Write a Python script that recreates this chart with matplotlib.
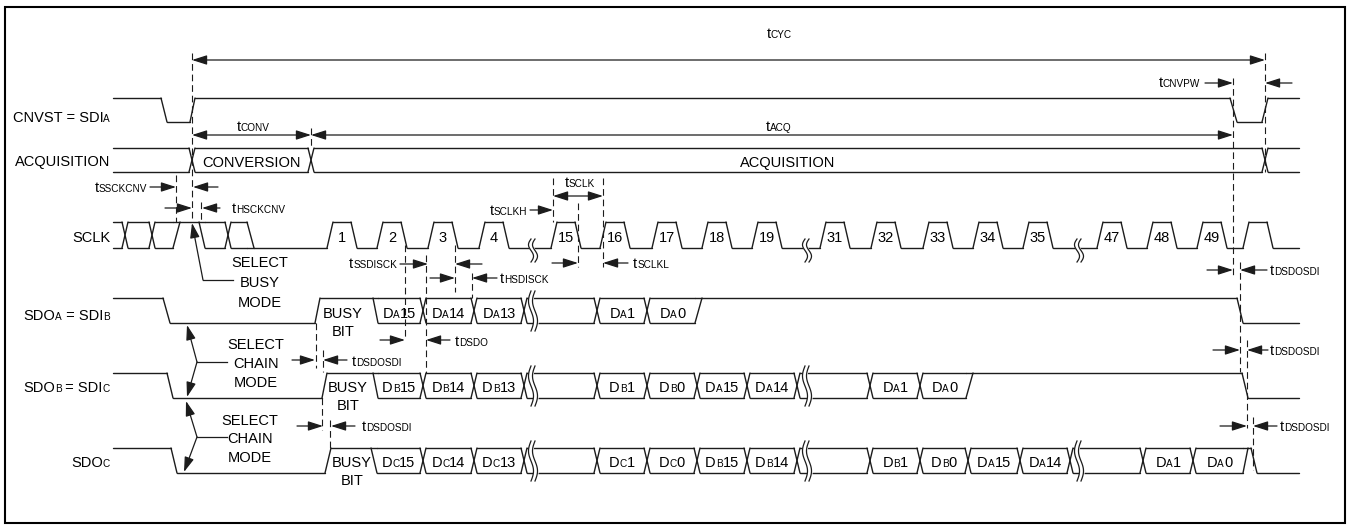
import re
import numpy as np
import matplotlib.pyplot as plt
from matplotlib.collections import LineCollection
from matplotlib.patches import Rectangle

plt.rcParams['font.family'] = ['Liberation Sans', 'DejaVu Sans']

INK = '#1c1c1c'

# ---- signal data: x = time position, states H / L / B(us) ----
row_labels = ['CNVST = SDI{A}', 'ACQUISITION', 'SCLK',
              'SDO{A} = SDI{B}', 'SDO{B} = SDI{C}', 'SDO{C}']

cnvst_trans = [(161, 6, 'L'), (190, 5, 'H'), (1230, 7, 'L'), (1262, 6, 'H')]
acq_trans = [(189, 6, 'B'), (308, 6, 'B'), (1262, 6, 'B')]
acq_text = ['', 'CONVERSION', 'ACQUISITION', '']

sclk_pre = [(122, 6, 'B'), (149, 6, 'B'), (173, 7, 'H'), (199, 6, 'B'), (225, 6, 'B'), (247, 7, 'L')]
sclk_rise = [327, 377, 428, 479, 551, 600, 652, 702, 752, 820, 871, 923, 973, 1023, 1097, 1147, 1197, 1243]
sclk_num = ['1', '2', '3', '4', '15', '16', '17', '18', '19', '31', '32', '33', '34', '35', '47', '48', '49', '']
sclk_breaks = [531, 805, 1077]

sdoa_cross = [420, 471, 521, 594, 644]
sdoa_bits = ['D{A}15', 'D{A}14', 'D{A}13', '', 'D{A}1', 'D{A}0']
sdoa_breaks = [531]

sdob_cross = [420, 471, 521, 594, 644, 694, 744, 794, 867, 917]
sdob_bits = ['D{B}15', 'D{B}14', 'D{B}13', '', 'D{B}1', 'D{B}0',
             'D{A}15', 'D{A}14', '', 'D{A}1', 'D{A}0']
sdob_breaks = [531, 805]

sdoc_cross = [420, 471, 521, 594, 644, 694, 744, 794, 867, 917, 965, 1017, 1067, 1140, 1190]
sdoc_bits = ['D{C}15', 'D{C}14', 'D{C}13', '', 'D{C}1', 'D{C}0',
             'D{B}15', 'D{B}14', '', 'D{B}1', 'D{B}0',
             'D{A}15', 'D{A}14', '', 'D{A}1', 'D{A}0']
sdoc_breaks = [531, 805, 1077]

sdoa_trans = [(163, 7, 'L'), (315, 5, 'H'), (373, 5, 'B')] + [(c, 6, 'B') for c in sdoa_cross] \
    + [(695, 7, 'H'), (1237, 6, 'L')]
sdob_trans = [(167, 6, 'L'), (322, 5, 'H'), (373, 5, 'B')] + [(c, 6, 'B') for c in sdob_cross] \
    + [(966, 7, 'H'), (1242, 6, 'L')]
sdoc_trans = [(171, 6, 'L'), (325, 6, 'H'), (371, 6, 'B')] + [(c, 6, 'B') for c in sdoc_cross] \
    + [(1243, 5, 'H'), (1251, 6, 'L')]

fig = plt.figure(figsize=(13.5, 5.25), dpi=100)
ax = fig.add_axes([0, 0, 1, 1])
ax.set_xlim(0, 1350)
ax.set_ylim(525, 0)
ax.axis('off')
renderer = fig.canvas.get_renderer()

FS, SUB = 10.5, 7.2


def rich(x, y, s, ha='left', size=FS, small=SUB):
    # text where {..} parts are small letters sitting on the baseline
    arts = []
    for p in re.split(r'(\{[^}]*\})', s):
        if not p:
            continue
        if p.startswith('{'):
            arts.append(ax.text(0, y, p[1:-1], fontsize=small, va='baseline', color='black'))
        else:
            arts.append(ax.text(0, y, p, fontsize=size, va='baseline', color='black'))
    ws = [a.get_window_extent(renderer).width for a in arts]
    tot = sum(ws)
    cur = x - tot if ha == 'right' else (x - tot / 2 if ha == 'center' else x)
    for a, w in zip(arts, ws):
        a.set_x(cur)
        cur += w


def wave(top, bot, start, trans, x0=113, x1=1299):
    lev = {'H': [top], 'L': [bot], 'B': [top, bot]}
    segs, cells = [], []
    cur, s = x0, start
    for x, w, ns in trans:
        for y in lev[s]:
            segs.append([(cur, y), (x, y)])
        cells.append((cur, x, s))
        if s == 'B' and ns == 'B':
            segs += [[(x, top), (x + w, bot)], [(x, bot), (x + w, top)]]
        else:
            for ya in lev[s]:
                for yb in lev[ns]:
                    segs.append([(x, ya), (x + w, yb)])
        cur, s = x + w, ns
    for y in lev[s]:
        segs.append([(cur, y), (x1, y)])
    cells.append((cur, x1, s))
    ax.add_collection(LineCollection(segs, colors=INK, linewidths=1.0, capstyle='round', zorder=2))
    return cells


def brk(x, y0, y1):
    yy = np.linspace(y0, y1, 50)
    off = -2.5 * np.sin(2 * np.pi * (yy - y0) / (y1 - y0))
    ax.fill_betweenx(yy, x + off, x + 4 + off, color='white', zorder=3)
    ax.plot(x + off, yy, color=INK, lw=0.9, zorder=4)
    ax.plot(x + 4 + off, yy, color=INK, lw=0.9, zorder=4)


def arrow(xt, xh, y, both=False):
    st = '<|-|>' if both else '-|>'
    ax.annotate('', xy=(xh, y), xytext=(xt, y),
                arrowprops=dict(arrowstyle=st + ',head_length=0.5,head_width=0.16', mutation_scale=18,
                                lw=0.9, color=INK, shrinkA=0, shrinkB=0))


def callout(x0, y0, x1, y1):
    ax.annotate('', xy=(x1, y1), xytext=(x0, y0),
                arrowprops=dict(arrowstyle='-|>,head_length=0.5,head_width=0.16', mutation_scale=18,
                                lw=0.9, color=INK, shrinkA=0, shrinkB=0))


def vdash(x, y0, y1):
    ax.plot([x, x], [y0, y1], color=INK, lw=0.8, linestyle=(0, (6, 3.5)), zorder=1)


# frame
ax.add_patch(Rectangle((5, 7), 1340, 516, fill=False, lw=1.5, edgecolor='black'))

# row labels
for lab, yb in zip(row_labels, [122, 166, 242, 320, 392, 467]):
    rich(110, yb, lab, ha='right')

# CNVST
wave(98, 122, 'H', cnvst_trans)

# ACQUISITION
cells = wave(148, 172, 'B', acq_trans)
for (a, b, s), t in zip(cells, acq_text):
    if t:
        rich((a + b) / 2, 167, t, ha='center')

# SCLK
sclk_trans = list(sclk_pre)
for r in sclk_rise:
    sclk_trans += [(r, 6, 'H'), (r + 24, 6, 'L')]
wave(222, 248, 'B', sclk_trans)
for r, n in zip(sclk_rise, sclk_num):
    if n:
        rich(r + 15, 242, n, ha='center')
for x in sclk_breaks:
    brk(x, 239, 262)

# SDO rows
rows = [(298, 323, sdoa_trans, sdoa_bits, sdoa_breaks, 318, 343),
        (373, 398, sdob_trans, sdob_bits, sdob_breaks, 392, 348),
        (448, 473, sdoc_trans, sdoc_bits, sdoc_breaks, 467, 352)]
for top, bot, tr, bits, brks, yb, bx in rows:
    cells = wave(top, bot, 'H', tr)
    bus = [c for c in cells if c[2] == 'B']
    for (a, b, s), t in zip(bus, bits):
        if t:
            rich((a + b) / 2, yb, t, ha='center')
    for x in brks:
        brk(x, top - 7, bot + 8)
    rich(bx, yb, 'BUSY', ha='center')
    rich(bx, yb + 18, 'BIT', ha='center')

# dashed guide lines
for x, y0, y1 in [(192, 53, 222), (176, 175, 222), (201, 202, 222), (311, 128, 148),
                  (1265, 53, 172), (1233, 78, 278), (1240, 262, 372), (1247, 340, 428),
                  (1253, 417, 470), (316, 323, 368), (323, 350, 372), (322, 398, 430),
                  (330, 420, 448), (405, 245, 340), (426, 255, 373), (455, 245, 292),
                  (472, 273, 298), (553, 178, 222), (578, 203, 267), (603, 178, 267)]:
    vdash(x, y0, y1)

# timing arrows
for xt, xh, y in [(150, 176, 187), (218, 193, 187), (165, 192, 208), (220, 202, 208),
                  (1205, 1233, 83), (1292, 1265, 83), (530, 553, 210),
                  (552, 578, 263), (628, 603, 263), (400, 428, 264), (482, 455, 264),
                  (430, 455, 278), (497, 472, 278), (380, 405, 340), (450, 426, 340),
                  (292, 315, 360), (347, 323, 360), (297, 323, 426), (355, 331, 426),
                  (1207, 1233, 270), (1267, 1240, 270), (1213, 1240, 350), (1268, 1247, 350),
                  (1220, 1247, 426), (1277, 1253, 426)]:
    arrow(xt, xh, y)
for xt, xh, y in [(192, 1265, 60), (192, 311, 135), (311, 1233, 135), (553, 603, 196)]:
    arrow(xt, xh, y, both=True)

# timing names
for s, x, y, ha in [('t{CYC}', 779, 38, 'center'), ('t{CONV}', 253, 131, 'center'),
                    ('t{ACQ}', 779, 131, 'center'), ('t{CNVPW}', 1200, 87, 'right'),
                    ('t{SSCKCNV}', 147, 192, 'right'), ('t{HSCKCNV}', 232, 213, 'left'),
                    ('t{SCLKH}', 527, 215, 'right'), ('t{SCLK}', 580, 187, 'center'),
                    ('t{SCLKL}', 633, 268, 'left'), ('t{SSDISCK}', 397, 268, 'right'),
                    ('t{HSDISCK}', 500, 283, 'left'), ('t{DSDO}', 455, 346, 'left'),
                    ('t{DSDOSDI}', 352, 366, 'left'), ('t{DSDOSDI}', 362, 431, 'left'),
                    ('t{DSDOSDI}', 1270, 275, 'left'), ('t{DSDOSDI}', 1270, 355, 'left'),
                    ('t{DSDOSDI}', 1280, 431, 'left')]:
    rich(x, y, s, ha=ha)

# mode select call-outs
for t, yb in zip(['SELECT', 'BUSY', 'MODE'], [267, 287, 307]):
    rich(260, yb, t, ha='center')
ax.plot([233, 203], [280, 280], color=INK, lw=0.9)
callout(203, 280, 192, 223)

for cx, ys, jy, tips in [(256, [349, 368, 387], 362, [(187, 325), (187, 397)]),
                         (250, [425, 443, 462], 437, [(186, 401), (184, 472)])]:
    for t, yb in zip(['SELECT', 'CHAIN', 'MODE'], ys):
        rich(cx, yb, t, ha='center')
    ax.plot([227, 197], [jy, jy], color=INK, lw=0.9)
    for tx, ty in tips:
        callout(197, jy, tx, ty)

fig.savefig('out.png', dpi=100)
